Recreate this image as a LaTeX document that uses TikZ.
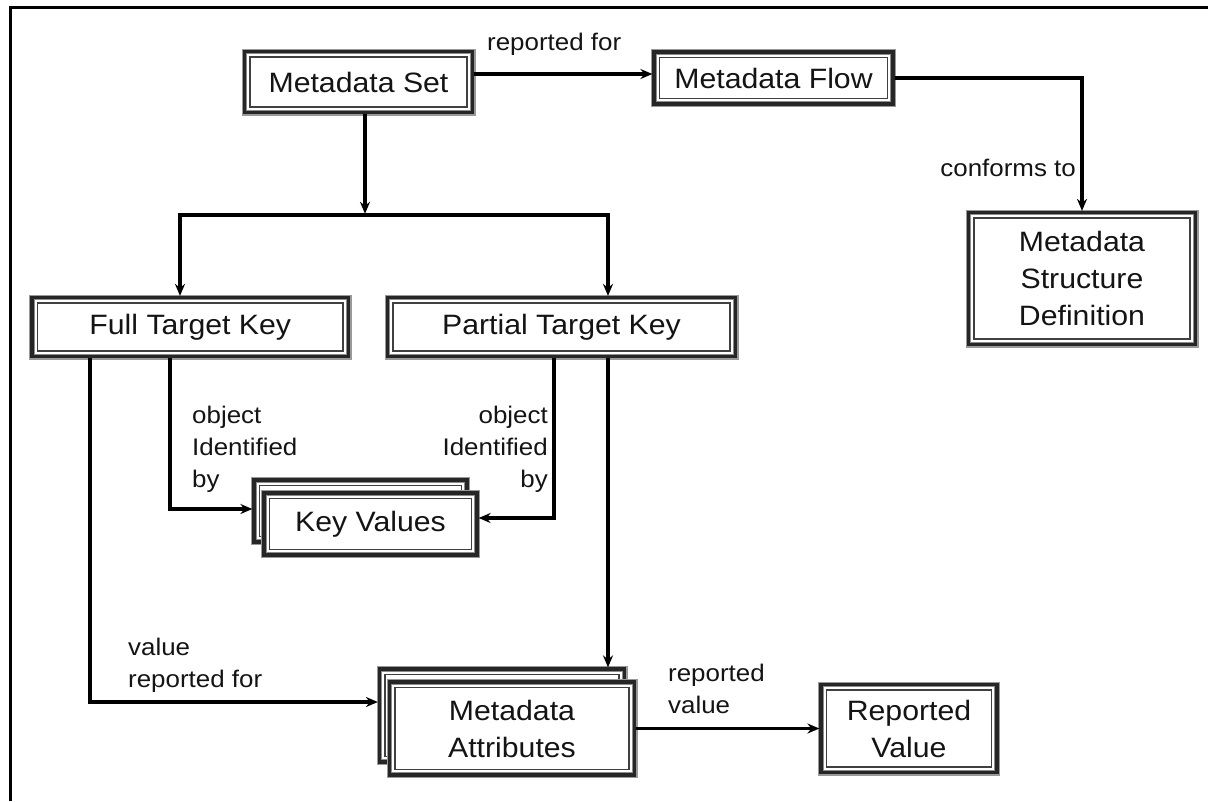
\documentclass[tikz,border=0pt]{standalone}
\usepackage{fontspec}
\setmainfont[FakeStretch=1.08]{Liberation Sans}
\usetikzlibrary{arrows.meta}
\newcommand\bxfont{\fontsize{28}{37}\selectfont}
\newcommand\lbfont{\fontsize{24}{32}\selectfont}
\tikzset{
  % box with a heavy outer rule, grey halo and a thin inner rule
  tbox/.style={rectangle, draw=black!85, line width=3.2pt, fill=white,
    inner sep=0pt, align=center, text=black!92, font=\bxfont,
    preaction={draw=black!40, line width=6pt},
    path picture={
      \draw[black!45, line width=1pt]
        ([shift={(2.2pt,-2.2pt)}]path picture bounding box.north west) rectangle
        ([shift={(-2.2pt,2.2pt)}]path picture bounding box.south east);
      \draw[black!75, line width=1.6pt]
        ([shift={(5.6pt,-5.6pt)}]path picture bounding box.north west) rectangle
        ([shift={(-5.6pt,5.6pt)}]path picture bounding box.south east);
    }},
  lbl/.style={inner sep=0pt, font=\lbfont, text=black!92},
  conn/.style={draw=black, line width=3.1pt, -{Stealth[length=12pt,width=10pt]}},
  frameline/.style={line width=2.8pt}
}
\begin{document}
\begin{tikzpicture}[x=1pt,y=-1pt]
\useasboundingbox (0,0) rectangle (1208,801);
\fill[white] (0,0) rectangle (1208,801);
\draw[frameline] (10.3,801) -- (10.3,7.8) -- (1208,7.8);

% boxes
\node[tbox, minimum width=228pt, minimum height=61pt] (set) at (358.5,82) {Metadata Set};
\node[tbox, minimum width=239pt, minimum height=52pt] (flow) at (773.5,78) {Metadata Flow};
\node[tbox, minimum width=227pt, minimum height=132pt] (msd) at (1082,278.5) {Metadata\\Structure\\Definition};
\node[tbox, minimum width=316.5pt, minimum height=59pt] (ftk) at (190.25,327) {Full Target Key};
\node[tbox, minimum width=348pt, minimum height=59pt] (ptk) at (561.5,327) {Partial Target Key};
\node[tbox, minimum width=213pt, minimum height=62pt] (kvb) at (360.5,511) {};
\node[tbox, minimum width=213pt, minimum height=62pt] (kv) at (370.5,524) {Key Values};
\node[tbox, minimum width=245pt, minimum height=93pt] (mab) at (502,715.5) {};
\node[tbox, minimum width=245pt, minimum height=93pt] (ma) at (512,728.5) {Metadata\\Attributes};
\node[tbox, minimum width=176pt, minimum height=88pt] (rv) at (909,728.5) {Reported\\Value};

% connectors
\coordinate (rf) at (0,74);
\draw[conn] (set.east |- rf) -- (flow.west |- rf);
\draw[conn] (flow.east) -| (msd.north);
\coordinate (jn) at (365,215);
\coordinate (jl) at (180,215);
\coordinate (jr) at (608,215);
\draw[conn, shorten >=1.2pt] (jn |- set.south) -- (jn);
\draw[conn] (jn) -| (jl |- ftk.north);
\draw[conn] (jn) -| (jr |- ptk.north);
\coordinate (ka) at (170,509);
\draw[conn] (ka |- ftk.south) |- (kvb.west |- ka);
\coordinate (kb) at (554,518);
\draw[conn] (kb |- ptk.south) |- (kv.east |- kb);
\coordinate (va) at (90,702);
\draw[conn] (va |- ftk.south) |- (mab.west |- va);
\draw[conn] (jr |- ptk.south) -- (jr |- mab.north);
\draw[conn] (ma.east) -- (rv.west);

% labels
\node[lbl, anchor=base west] (lrf) at (487,50) {reported for};
\node[lbl, anchor=base east] (lcf) at (1076,176) {conforms to};
\node[lbl, anchor=north west, align=left] (loa) at (192,406) {object\\Identified\\by};
\node[lbl, anchor=north east, align=right] (lob) at (548,406) {object\\Identified\\by};
\node[lbl, anchor=north west, align=left] (lvr) at (128,638) {value\\reported for};
\node[lbl, anchor=north west, align=left] (lrv) at (668,664) {reported\\value};
\end{tikzpicture}
\end{document}
